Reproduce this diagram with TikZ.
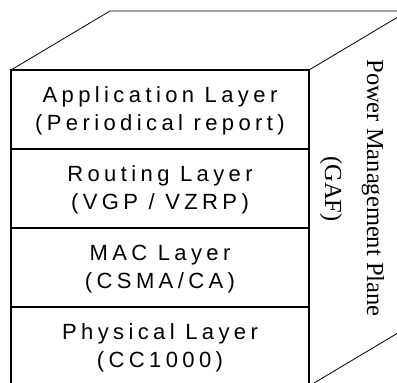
\documentclass[tikz,border=0pt]{standalone}
\usepackage{fontspec}
\newfontfamily\layerfont[LetterSpace=20]{Liberation Sans}
\newfontfamily\planefont{Liberation Serif}
\begin{document}
\begin{tikzpicture}[x=1pt,y=-1pt,
  edge/.style={draw=black,line width=0.8pt},
  frontedge/.style={draw=black,line width=1.6pt},
  layerbox/.style={frontedge,minimum width=298pt,minimum height=79pt,inner sep=0pt,outer sep=0pt},
  layertext/.style={font=\layerfont\fontsize{22pt}{26pt}\selectfont,anchor=base,inner sep=0pt},
  planetext/.style={font=\planefont\fontsize{24.5pt}{28pt}\selectfont,anchor=base,rotate=-90,inner sep=0pt}]
\useasboundingbox (0,0) rectangle (397,383);
\clip (0,0) rectangle (397,383);
% side faces of the stack
\coordinate (ftl) at (11,70);
\coordinate (ftr) at (309,70);
\coordinate (fbr) at (309,386);
\coordinate (btl) at (110,11);
\coordinate (btr) at (408,11);
\coordinate (bbr) at (408,327);
\draw[edge] (ftl) -- (btl) -- (btr) -- (ftr);
\draw[edge] (btr) -- (bbr) -- (fbr);
% front face: four protocol layers
\node[layerbox] (app) at (160,109.5) {};
\node[layerbox] (rout) at (160,188.5) {};
\node[layerbox] (mac) at (160,267.5) {};
\node[layerbox] (phy) at (160,346.5) {};
\node[layertext] (appa) at (160,102) {Application Layer};
\node[layertext] (appb) at (160,130) {(Periodical report)};
\node[layertext] (routa) at (160,181) {Routing Layer};
\node[layertext] (routb) at (160,209) {(VGP / VZRP)};
\node[layertext] (maca) at (160,260) {MAC Layer};
\node[layertext] (macb) at (160,288) {(CSMA/CA)};
\node[layertext] (phya) at (160,339) {Physical Layer};
\node[layertext] (phyb) at (160,367) {(CC1000)};
% label on the side face
\node[planetext] (plane) at (367,188) {Power Management Plane};
\node[planetext] (gaf) at (325,189) {(GAF)};
\end{tikzpicture}
\end{document}
